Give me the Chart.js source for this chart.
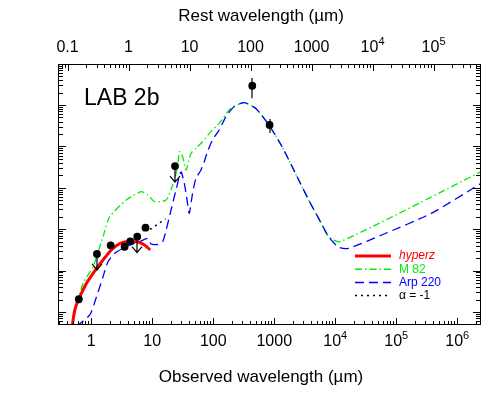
<!DOCTYPE html>
<html>
<head>
<meta charset="utf-8">
<script src="https://cdn.jsdelivr.net/npm/chart.js@4.4.1/dist/chart.umd.min.js"></script>
<style>
  html, body { margin: 0; padding: 0; background: #fff; }
  #wrap { width: 485px; height: 402px; position: relative; }
</style>
</head>
<body>
<div id="wrap"><canvas id="sedChart"></canvas></div>
<script>
/* ---------------------------- */
/* DATA   */
/* ---------------------------- */

const redshift = 3.09;

const obsTicks = [1, 10, 100, 1000, 1e4, 1e5, 1e6];
const restTicks = [0.1, 1, 10, 100, 1000, 1e4, 1e5];

// photometry: observed wavelength (um) and flux
const obsWave = [0.625, 1.24, 2.08, 3.52, 4.36, 5.67, 7.75, 23.6, 436, 838];
const obsFlux = [2.03e-4, 2.52e-3, 4.08e-3, 3.77e-3, 5.1e-3, 6.6e-3, 0.0109, 0.336, 29.2, 3.29];
const obsErrLo = [null, null, null, null, null, null, null, null, 14.5, 2.11];
const obsErrHi = [null, null, null, null, null, null, null, null, 44.9, 4.59];
const obsUpper = [false, true, false, false, false, true, false, true, false, false];

// hyperz stellar fit
const hyperzWave = [0.48, 0.538, 0.649, 0.835, 1.07, 1.56, 2.27, 3.75, 5.46, 7.46, 9.25];
const hyperzFlux = [4.0e-5, 1.12e-4, 2.30e-4, 4.93e-4, 8.61e-4, 1.80e-3, 3.46e-3, 4.99e-3, 4.99e-3, 4.15e-3, 3.15e-3];

// M 82 template
const m82Wave = [0.508, 0.735, 1.07, 1.56, 2.0, 3.75, 6.59, 8.45, 10.9, 16.9, 21.6, 26.1, 27.8, 31.5, 35.7,
  43.1, 52.0, 66.6, 91.4, 125, 194, 319, 495, 817, 1345, 2223, 3667, 5340, 7780, 12080, 2.46e6];
const m82Flux = [7.2e-5, 4.93e-4, 1.24e-3, 6.59e-3, 0.0200, 0.0507, 0.0805, 0.0670, 0.0461, 0.0507, 0.117,
  0.324, 0.745, 0.564, 0.269, 0.681, 0.899, 1.30, 2.27, 3.61, 8.32, 11.4, 8.32, 3.29, 0.984, 0.224,
  0.0507, 0.0183, 6.59e-3, 4.99e-3, 0.245];

// Arp 220 template
const arpWave = [0.57, 0.946, 1.22, 1.56, 1.88, 2.42, 3.75, 6.18, 8.45, 9.60, 12.3, 14.8, 16.9, 20.3, 24.5,
  29.6, 33.5, 37.9, 40.4, 45.8, 52.0, 62.8, 71.1, 80.4, 97.0, 125, 161, 219, 319, 495, 817, 1345, 2223,
  3667, 5340, 7780, 11320, 16480, 57540, 3.77e5, 2.47e6];
const arpFlux = [4.5e-5, 8.47e-5, 2.34e-4, 7.13e-4, 1.64e-3, 2.62e-3, 3.78e-3, 4.99e-3, 6.03e-3, 4.39e-3,
  4.27e-3, 4.99e-3, 9.57e-3, 0.0291, 0.0886, 0.241, 0.129, 0.0423, 0.0242, 0.0736, 0.169, 0.269, 0.427,
  0.745, 1.43, 2.49, 5.21, 9.10, 11.4, 8.32, 3.29, 0.984, 0.224, 0.0507, 0.0183, 6.59e-3, 3.66e-3,
  3.46e-3, 7.24e-3, 0.0242, 0.129];

// alpha = -1 power law segment
const alphaWave = [9.2, 16.5];
const alphaFlux = [0.0099, 0.0178];

const xMin = 0.285, xMax = 2.45e6;
const yMin = 4.85e-5, yMax = 98;

/* ---------------------------- */
/* HELPERS                      */
/* ---------------------------- */

const FONT = '"Liberation Sans", Arial, Helvetica, sans-serif';

function pairs(xs, ys) {
  return xs.map(function (x, i) { return { x: x, y: ys[i] }; });
}

function drawLogLabel(ctx, v, x, y) {
  const e = Math.round(Math.log10(v));
  ctx.fillStyle = "#000";
  ctx.textBaseline = "middle";
  if (e < 4) {
    ctx.font = "16px " + FONT;
    ctx.textAlign = "center";
    ctx.fillText(v < 1 ? "0.1" : String(v), x, y);
    return;
  }
  ctx.font = "16px " + FONT;
  const wb = ctx.measureText("10").width;
  ctx.font = "11px " + FONT;
  const we = ctx.measureText(String(e)).width;
  const start = x - (wb + we) / 2;
  ctx.textAlign = "left";
  ctx.font = "16px " + FONT;
  ctx.fillText("10", start, y);
  ctx.font = "11px " + FONT;
  ctx.fillText(String(e), start + wb, y - 6);
}

function logTickValues(min, max) {
  const out = [];
  for (let k = Math.floor(Math.log10(min)); k <= Math.ceil(Math.log10(max)); k++) {
    for (let m = 1; m <= 9; m++) {
      const v = m * Math.pow(10, k);
      if (v >= min && v <= max) out.push({ v: v, major: m === 1 });
    }
  }
  return out;
}

/* ---------------------------- */
/* AXES / LEGEND / ANNOTATIONS  */
/* ---------------------------- */

const framePlugin = {
  id: "frame",

  beforeDatasetDraw(chart, args) {
    if (args.index !== 0) return;
    const ctx = chart.ctx;
    const xs = chart.scales.x, ys = chart.scales.y;
    ctx.save();
    // error bars
    ctx.strokeStyle = "#666";
    ctx.lineWidth = 2;
    obsWave.forEach(function (w, i) {
      if (obsErrLo[i] === null) return;
      const px = Math.round(xs.getPixelForValue(w));
      ctx.beginPath();
      ctx.moveTo(px, ys.getPixelForValue(obsErrHi[i]));
      ctx.lineTo(px, ys.getPixelForValue(obsErrLo[i]));
      ctx.stroke();
    });
    // upper limit arrows
    ctx.strokeStyle = "#000";
    ctx.lineWidth = 1.2;
    obsWave.forEach(function (w, i) {
      if (!obsUpper[i]) return;
      const px = Math.round(xs.getPixelForValue(w));
      const py = ys.getPixelForValue(obsFlux[i]);
      const tip = py + 16;
      ctx.beginPath();
      ctx.moveTo(px, py);
      ctx.lineTo(px, tip);
      ctx.moveTo(px - 5, tip - 6);
      ctx.lineTo(px, tip);
      ctx.lineTo(px + 5, tip - 6);
      ctx.stroke();
    });
    ctx.restore();
  },

  afterDraw(chart) {
    const ctx = chart.ctx;
    const a = chart.chartArea;
    const xs = chart.scales.x, xt = chart.scales.xTop, ys = chart.scales.y;

    ctx.save();
    ctx.strokeStyle = "#000";
    ctx.lineWidth = 1;
    ctx.strokeRect(a.left + 0.5, a.top + 0.5, a.right - a.left - 1, a.bottom - a.top - 1);

    // inward ticks
    ctx.beginPath();
    logTickValues(xs.min, xs.max).forEach(function (t) {
      const px = Math.round(xs.getPixelForValue(t.v)) + 0.5;
      const len = t.major ? 7 : 4;
      ctx.moveTo(px, a.bottom);
      ctx.lineTo(px, a.bottom - len);
    });
    logTickValues(xt.min, xt.max).forEach(function (t) {
      const px = Math.round(xt.getPixelForValue(t.v)) + 0.5;
      const len = t.major ? 7 : 4;
      ctx.moveTo(px, a.top);
      ctx.lineTo(px, a.top + len);
    });
    logTickValues(ys.min, ys.max).forEach(function (t) {
      const py = Math.round(ys.getPixelForValue(t.v)) + 0.5;
      const len = t.major ? 8 : 5;
      ctx.moveTo(a.left, py);
      ctx.lineTo(a.left + len, py);
      ctx.moveTo(a.right, py);
      ctx.lineTo(a.right - len, py);
    });
    ctx.stroke();

    // tick labels
    obsTicks.forEach(function (v) {
      drawLogLabel(ctx, v, xs.getPixelForValue(v), a.bottom + 17);
    });
    restTicks.forEach(function (v) {
      drawLogLabel(ctx, v, xt.getPixelForValue(v), a.top - 16);
    });

    // axis titles
    ctx.fillStyle = "#000";
    ctx.font = "17px " + FONT;
    ctx.textAlign = "center";
    ctx.textBaseline = "middle";
    const cx = 261;
    ctx.fillText("Rest wavelength (\u00b5m)", cx, 16);
    ctx.fillText("Observed wavelength (\u00b5m)", cx, 377);

    // source name
    ctx.font = "23px " + FONT;
    ctx.textAlign = "left";
    ctx.textBaseline = "alphabetic";
    ctx.fillText("LAB 2b", 84, 105);

    // legend
    const legend = [
      { label: "hyperz", color: "#ff0000", width: 3, dash: [], italic: true },
      { label: "M 82", color: "#00ee00", width: 1.5, dash: [7, 3, 1.5, 3], italic: false },
      { label: "Arp 220", color: "#0000ff", width: 1.5, dash: [9, 5], italic: false },
      { label: "\u03b1 = -1", color: "#000", width: 1.5, dash: [2, 4], italic: false },
    ];
    legend.forEach(function (item, i) {
      const y = 256 + i * 13.2;
      ctx.strokeStyle = item.color;
      ctx.lineWidth = item.width;
      ctx.setLineDash(item.dash);
      ctx.beginPath();
      ctx.moveTo(355, y);
      ctx.lineTo(391, y);
      ctx.stroke();
      ctx.setLineDash([]);
      ctx.fillStyle = item.color;
      ctx.font = (item.italic ? "italic " : "") + "12px " + FONT;
      ctx.textBaseline = "middle";
      ctx.fillText(item.label, 399, y);
    });
    ctx.restore();
  },
};

/* ---------------------------- */
/* CHART                        */
/* ---------------------------- */

document.addEventListener("DOMContentLoaded", function () {
  const ctx = document.getElementById("sedChart").getContext("2d");

  new Chart(ctx, {
    type: "scatter",

    data: {
      datasets: [
        {
          label: "photometry",
          data: pairs(obsWave, obsFlux),
          backgroundColor: "#000",
          borderWidth: 0,
          pointRadius: 3.9,
        },
        {
          label: "hyperz",
          data: pairs(hyperzWave, hyperzFlux),
          showLine: true,
          borderColor: "#ff0000",
          borderWidth: 3,
          pointRadius: 0,
          cubicInterpolationMode: "monotone",
          clip: 0,
        },
        {
          label: "alpha = -1",
          data: pairs(alphaWave, alphaFlux),
          showLine: true,
          borderColor: "#000",
          borderWidth: 1.5,
          borderDash: [2, 4],
          pointRadius: 0,
          clip: 0,
        },
        {
          label: "Arp 220",
          data: pairs(arpWave, arpFlux),
          showLine: true,
          borderColor: "#0000ff",
          borderWidth: 1.3,
          borderDash: [9, 5],
          pointRadius: 0,
          tension: 0.2,
          clip: 0,
        },
        {
          label: "M 82",
          data: pairs(m82Wave, m82Flux),
          showLine: true,
          borderColor: "#00ee00",
          borderWidth: 1.3,
          borderDash: [7, 3, 1.5, 3],
          pointRadius: 0,
          tension: 0.2,
          clip: 0,
        },
      ],
    },

    options: {
      responsive: true,
      maintainAspectRatio: false,
      animation: false,
      events: [],

      layout: {
        padding: { left: 58, right: 2, top: 64, bottom: 77 },
      },

      plugins: {
        legend: { display: false },
        tooltip: { enabled: false },
      },

      scales: {
        x: {
          type: "logarithmic",
          min: xMin,
          max: xMax,
          display: false,
        },
        xTop: {
          type: "logarithmic",
          position: "top",
          min: xMin / (1 + redshift),
          max: xMax / (1 + redshift),
          display: false,
        },
        y: {
          type: "logarithmic",
          min: yMin,
          max: yMax,
          display: false,
        },
      },
    },

    plugins: [framePlugin],
  });
});
</script>
</body>
</html>
